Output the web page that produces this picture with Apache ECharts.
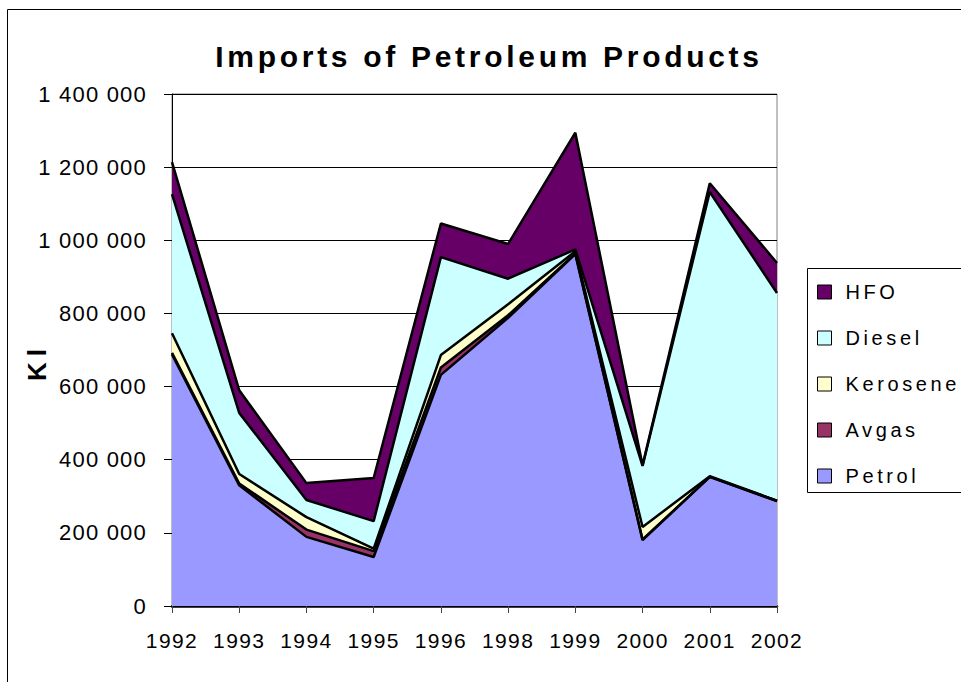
<!DOCTYPE html>
<html>
<head>
<meta charset="utf-8">
<script src="https://cdn.jsdelivr.net/npm/echarts@6/dist/echarts.min.js"></script>
<style>
  html, body { margin: 0; padding: 0; background: #fff; }
  #chart { width: 961px; height: 682px; }
  text[style*="22px"] { letter-spacing: 1.2px; }
  text[style*="21px"] { letter-spacing: 1.4px; }
  text[style*="20px"] { letter-spacing: 3.6px; }
  text[style*="30px"] { letter-spacing: 3.7px; }
  text[style*="26px"] { letter-spacing: 6px; }
</style>
</head>
<body>
<div id="chart"></div>
<script>
const categories = ['1992', '1993', '1994', '1995', '1996', '1998', '1999', '2000', '2001', '2002'];
const petrol   = [688000, 330000, 189000, 134000, 632000, 788000, 962000, 180000, 353000, 287000];
const avgas    = [4000, 5000, 20000, 16000, 20000, 7000, 2000, 2000, 0, 0];
const kerosene = [54000, 26000, 34000, 7000, 34000, 30000, 6000, 34000, 2000, 1000];
const diesel   = [380000, 167000, 47000, 75000, 268000, 70000, 5000, 167000, 777000, 568000];
const hfo      = [88000, 62000, 46000, 118000, 92000, 95000, 319000, 2000, 24000, 82000];
const seriesNames = ['Petrol', 'Avgas', 'Kerosene', 'Diesel', 'HFO'];
const legendOrder = ['HFO', 'Diesel', 'Kerosene', 'Avgas', 'Petrol'];
const yMin = 0, yMax = 1400000, yInterval = 200000;
const titleText = 'Imports of Petroleum Products';
const yName = 'Kl';

const FONT = "'Liberation Sans', Arial, sans-serif";
const fills = { Petrol: '#9999FF', Avgas: '#993366', Kerosene: '#FFFFCC', Diesel: '#CCFFFF', HFO: '#660066' };
const values = { Petrol: petrol, Avgas: avgas, Kerosene: kerosene, Diesel: diesel, HFO: hfo };

const chart = echarts.init(document.getElementById('chart'), null, { renderer: 'svg' });

const fmt = v => String(v).replace(/\B(?=(\d{3})+(?!\d))/g, ' ');

chart.setOption({
  animation: false,
  backgroundColor: '#fff',
  graphic: [
    { type: 'rect', z: -10, silent: true,
      shape: { x: 7.5, y: 9.5, width: 1000, height: 1000 },
      style: { fill: 'none', stroke: '#000', lineWidth: 1 } },
    { type: 'rect', z: 1, silent: true,
      shape: { x: 807.5, y: 268.5, width: 200, height: 224 },
      style: { fill: '#fff', stroke: '#000', lineWidth: 1 } },
    { type: 'text', z: 5, silent: true, x: 489, y: 56,
      style: { text: titleText, fontSize: 30, fontWeight: 'bold', fontFamily: FONT,
               fill: '#000', align: 'center', verticalAlign: 'middle' } },
    { type: 'text', z: 5, silent: true, x: 37, y: 362, rotation: Math.PI / 2,
      style: { text: yName, fontSize: 26, fontWeight: 'bold', fontFamily: FONT,
               fill: '#000', align: 'center', verticalAlign: 'middle' } }
  ],
  legend: {
    data: legendOrder,
    orient: 'vertical',
    left: 817, top: 282,
    padding: 0,
    itemWidth: 14, itemHeight: 14, itemGap: 26,
    icon: 'rect',
    itemStyle: { borderColor: '#000', borderWidth: 1 },
    textStyle: { fontSize: 20, fontFamily: FONT, color: '#000', lineHeight: 20, padding: [0, 0, 0, 9] },
    z: 10
  },
  grid: {
    left: 172, right: 184, top: 94, bottom: 76,
    show: true, borderColor: '#808080', borderWidth: 1, backgroundColor: 'transparent'
  },
  xAxis: {
    type: 'category',
    data: categories,
    boundaryGap: false,
    axisLine: { lineStyle: { color: '#000', width: 2.5 } },
    axisTick: { show: true, length: 7, alignWithLabel: true, interval: 0, lineStyle: { color: '#444', width: 1 } },
    axisLabel: { fontSize: 21, fontFamily: FONT, color: '#000', margin: 24, interval: 0 },
    splitLine: { show: false }
  },
  yAxis: {
    type: 'value',
    min: yMin, max: yMax, interval: yInterval,
    axisLine: { show: true, lineStyle: { color: '#000', width: 1 } },
    axisTick: { show: true, length: 8, lineStyle: { color: '#000', width: 1 } },
    axisLabel: { fontSize: 22, fontFamily: FONT, color: '#000', margin: 25, formatter: fmt },
    splitLine: { show: true, lineStyle: { color: '#000', width: 1 } }
  },
  series: seriesNames.map(name => ({
    name: name,
    type: 'line',
    stack: 'total',
    data: values[name],
    symbol: 'none',
    showSymbol: false,
    lineStyle: { color: '#000', width: 2.5 },
    itemStyle: { color: fills[name] },
    areaStyle: { color: fills[name], opacity: 1 },
    emphasis: { disabled: true }
  }))
});
</script>
</body>
</html>
